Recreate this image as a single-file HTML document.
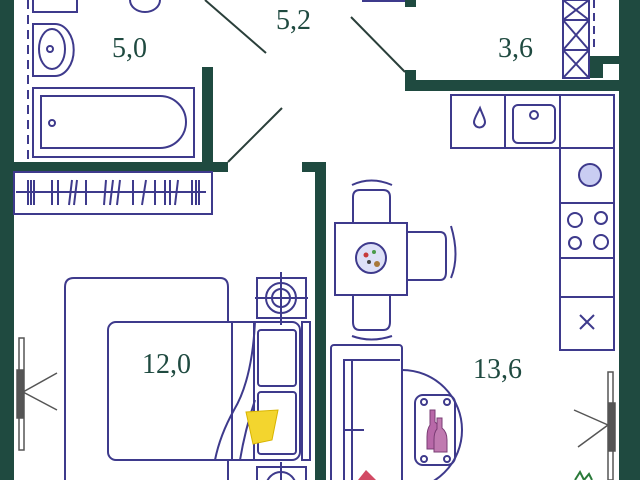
<!DOCTYPE html>
<html><head><style>html,body{margin:0;background:#fff;overflow:hidden;width:640px;height:480px}svg{display:block}</style></head><body>
<svg width="640" height="480" viewBox="0 0 640 480" xmlns="http://www.w3.org/2000/svg">
<rect width="640" height="480" fill="#fff"/>
<g fill="#1f4a40">
<rect x="0" y="0" width="14" height="480"/>
<rect x="619" y="0" width="21" height="480"/>
<rect x="14" y="162" width="214" height="10"/>
<rect x="202" y="67" width="11" height="105"/>
<rect x="302" y="162" width="24" height="10"/>
<rect x="315" y="162" width="11" height="318"/>
<rect x="405" y="0" width="11" height="7"/>
<rect x="405" y="70" width="11" height="21"/>
<rect x="405" y="80" width="214" height="11"/>
<rect x="590" y="56" width="13" height="22"/>
<rect x="603" y="56" width="16" height="8"/>
</g>
<g stroke="#2a3f3a" stroke-width="2" fill="none">
<line x1="205" y1="0" x2="266" y2="53"/>
<line x1="228" y1="162" x2="282" y2="108"/>
<line x1="351" y1="17" x2="405" y2="72"/>
</g>
<g stroke="#3e3a8c" stroke-width="2" fill="none">
<line x1="362" y1="1" x2="405" y2="1"/>
<line x1="28" y1="0" x2="28" y2="160" stroke-dasharray="9,6"/>
<path d="M33 0V12H77V0"/>
<ellipse cx="145" cy="0" rx="15" ry="12"/>
<path d="M33 24H55A18 25 0 0 1 55 76H33Z"/>
<ellipse cx="52" cy="49" rx="13" ry="20"/>
<circle cx="50" cy="49" r="3"/>
<rect x="33" y="88" width="161" height="69"/>
<path d="M41 96H160A26 26 0 0 1 160 148H41Z"/>
<circle cx="52" cy="123" r="3"/>
<rect x="14" y="172" width="198" height="42"/>
<line x1="16" y1="192" x2="206" y2="192"/>
<path d="M28 180v25M31 180v25M34 180v25M52 180v25M58 180v25M72 180l-3 25M77 180l-3 25M86 180v25M106 180l-2 25M113 180l-3 25M120 180l-3 25M133 180v25M146 180l-4 25M155 180v25M165 180v25M170 180v25M178 180l-3 25M192 180v25M196 180v25M199 180v25"/>
<rect x="563" y="0" width="26" height="78"/>
<path d="M563 20H589M563 50H589M563 0L589 20M589 0L563 20M563 20L589 50M589 20L563 50M563 50L589 78M589 50L563 78"/>
<line x1="594" y1="0" x2="594" y2="52" stroke-dasharray="8,5"/>
<rect x="451" y="95" width="163" height="53"/>
<line x1="505" y1="95" x2="505" y2="148"/><line x1="560" y1="95" x2="560" y2="148"/>
<rect x="513" y="105" width="42" height="38" rx="5"/>
<circle cx="534" cy="115" r="4"/>
<path d="M480 108C476 116 474 119 474 122A5 5 0 0 0 485 122C485 119 483 116 480 108Z"/>
<rect x="560" y="148" width="54" height="202"/>
<line x1="560" y1="203" x2="614" y2="203"/><line x1="560" y1="258" x2="614" y2="258"/><line x1="560" y1="297" x2="614" y2="297"/>
<circle cx="590" cy="175" r="11" fill="#c9cdf2"/>
<circle cx="575" cy="220" r="7"/><circle cx="601" cy="218" r="6"/><circle cx="575" cy="243" r="6"/><circle cx="601" cy="242" r="7"/>
<path d="M580 315L594 329M594 315L580 329"/>
<rect x="335" y="223" width="72" height="72"/>
<circle cx="371" cy="258" r="15" fill="#dde0f7"/>
<path d="M353 224V197Q353 190 360 190H383Q390 190 390 197V224"/>
<path d="M352 185Q371 176 392 185"/>
<path d="M408 232H440Q446 232 446 240V272Q446 280 440 280H408"/>
<path d="M451 226Q460 256 451 278"/>
<path d="M353 296V322Q353 330 360 330H383Q390 330 390 322V296"/>
<path d="M352 336Q371 343 392 336"/>
<rect x="331" y="345" width="71" height="140" rx="3"/>
<path d="M344 480V360H400M352 360V480M344 430H364"/>
<path d="M402 370A60 60 0 0 1 402 490"/>
<rect x="415" y="395" width="40" height="70" rx="8"/>
<circle cx="424" cy="402" r="3"/><circle cx="447" cy="402" r="3"/><circle cx="424" cy="459" r="3"/><circle cx="447" cy="459" r="3"/>
<path d="M65 480V287Q65 278 74 278H220Q228 278 228 287V322"/>
<path d="M228 460V480"/>
<rect x="108" y="322" width="192" height="138" rx="8"/>
<line x1="232" y1="322" x2="232" y2="460"/>
<line x1="254" y1="322" x2="254" y2="460"/>
<path d="M255 322Q252 380 234 410Q220 435 215 460M240 460Q245 430 255 400"/>
<rect x="258" y="330" width="38" height="56" rx="3"/>
<rect x="258" y="392" width="38" height="62" rx="3"/>
<rect x="302" y="322" width="8" height="138"/>
<rect x="257" y="278" width="49" height="40"/>
<circle cx="281" cy="298" r="15"/><circle cx="281" cy="298" r="9"/>
<path d="M255 298H308M281 272V325"/>
<rect x="257" y="467" width="49" height="40"/>
<circle cx="281" cy="487" r="15"/><path d="M281 462V480"/>
</g>
<path d="M246 412L278 410L272 440L253 444Z" fill="#f3d52e" stroke="#d8b400" stroke-width="1"/>
<path d="M430 410h5v12q6 5 6 15v12h-14v-12q0-8 3-12z" fill="#b868a8" stroke="#7a3c74"/>
<path d="M437 418h5v10q5 4 5 12v12h-13v-12q0-8 3-11z" fill="#c07ab0" stroke="#7a3c74"/>
<circle cx="366" cy="255" r="2.5" fill="#c63a3a"/><circle cx="374" cy="252" r="2" fill="#4a9a4a"/><circle cx="377" cy="264" r="3" fill="#a8783a"/><circle cx="369" cy="262" r="2" fill="#444"/>
<path d="M358 480L366 470L376 480Z" fill="#d24a64"/>
<g stroke="#555" stroke-width="1.5" fill="none">
<rect x="19" y="338" width="5" height="112" fill="#fff"/>
<rect x="17" y="370" width="6" height="48" fill="#555"/>
<line x1="23" y1="392" x2="57" y2="373"/><line x1="23" y1="392" x2="57" y2="410"/>
<rect x="608" y="372" width="5" height="108" fill="#fff"/>
<rect x="609" y="403" width="6" height="48" fill="#555"/>
<line x1="608" y1="425" x2="574" y2="410"/><line x1="608" y1="425" x2="578" y2="447"/>
</g>
<g font-family="Liberation Serif, serif" font-size="28" fill="#1f4a40">
<text x="112" y="57">5,0</text>
<text x="276" y="29">5,2</text>
<text x="498" y="57">3,6</text>
<text x="142" y="373">12,0</text>
<text x="473" y="378">13,6</text>
</g>
<path d="M575 480l5-8 4 8 5-6 3 6" stroke="#2a7a3a" stroke-width="2" fill="none"/>
</svg>
</body></html>
